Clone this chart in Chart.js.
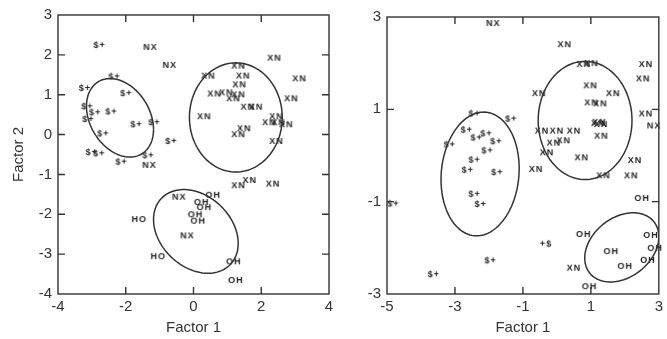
<!DOCTYPE html>
<html>
<head>
<meta charset="utf-8">
<script src="https://cdn.jsdelivr.net/npm/chart.js@4.4.0/dist/chart.umd.min.js"></script>
<style>
  html, body { margin: 0; padding: 0; background: #fff; }
  #left { position: absolute; left: 0; top: 0; width: 340px; height: 339px; }
  #right { position: absolute; left: 340px; top: 0; width: 327px; height: 339px; }
</style>
</head>
<body>
<div id="left"><canvas id="c1"></canvas></div>
<div id="right"><canvas id="c2"></canvas></div>
<script>
// ---- left panel data (Factor 1, Factor 2) ----
const leftS = [[-2.77, 2.25], [-2.33, 1.46], [-3.2, 1.17], [-1.98, 1.04], [-3.13, 0.71], [-2.9, 0.56],
  [-2.42, 0.58], [-3.1, 0.39], [-2.66, 0.03], [-1.68, 0.26], [-1.15, 0.31], [-0.65, -0.16],
  [-3.0, -0.44], [-2.78, -0.47], [-1.33, -0.52], [-2.12, -0.68]];
const leftNX = [[-1.27, 2.2], [-0.7, 1.75], [-1.3, -0.76], [-0.42, -1.56], [-0.18, -2.53]];
const leftXN = [[2.39, 1.93], [1.33, 1.73], [0.44, 1.48], [1.47, 1.48], [3.13, 1.41], [1.36, 1.26],
  [0.62, 1.03], [0.97, 1.06], [1.33, 1.01], [1.18, 0.91], [2.89, 0.91], [1.6, 0.7], [1.85, 0.7],
  [0.32, 0.46], [2.45, 0.46], [2.24, 0.31], [2.51, 0.31], [2.74, 0.26], [1.5, 0.16], [1.33, 0.01],
  [2.45, -0.16], [1.33, -1.27], [1.66, -1.14], [2.35, -1.23]];
const leftOH = [[0.58, -1.51], [0.24, -1.69], [0.32, -1.82], [0.06, -2.0], [0.14, -2.16],
  [1.19, -3.18], [1.25, -3.65]];
const leftHO = [[-1.6, -2.12], [-1.04, -3.05]];
// ellipses: centre x, centre y, right-extreme offset dx, dy, half height
const leftEllipses = [[-2.17, 0.42, 0.99, -0.29, 0.985], [1.25, 0.43, 1.37, 0, 1.37], [0.07, -2.43, 1.25, -0.3, 1.05]];

// ---- right panel data ----
const rightS = [[-2.42, 0.91], [-1.34, 0.8], [-2.65, 0.56], [-2.07, 0.48], [-2.36, 0.39], [-1.78, 0.31],
  [-3.15, 0.24], [-2.04, 0.11], [-2.42, -0.09], [-2.62, -0.31], [-1.75, -0.36], [-2.42, -0.83],
  [-2.24, -1.05], [-4.81, -1.04], [-1.95, -2.27], [-3.62, -2.57]];
const rightSrev = [[-0.32, -1.91]];
const rightNX = [[-1.87, 2.87], [2.86, 0.65]];
const rightXN = [[0.23, 2.41], [0.79, 1.98], [1.02, 2.0], [2.62, 1.98], [2.54, 1.67], [0.99, 1.52],
  [1.66, 1.35], [-0.52, 1.35], [1.02, 1.15], [1.28, 1.13], [2.62, 0.91], [1.22, 0.7], [1.3, 0.68],
  [1.25, 0.73], [1.31, 0.43], [-0.44, 0.54], [0.0, 0.54], [0.5, 0.54], [-0.09, 0.28], [0.2, 0.33],
  [-0.29, 0.07], [0.73, -0.04], [-0.61, -0.29], [2.3, -0.1], [1.37, -0.43], [2.19, -0.43], [0.5, -2.43]];
const rightOH = [[2.51, -0.92], [0.79, -1.7], [2.77, -1.72], [2.89, -2.0], [1.6, -2.07], [2.68, -2.26],
  [2.01, -2.39], [0.96, -2.83]];
const rightEllipses = [[-2.26, -0.4, 1.15, 0.12, 1.34], [0.83, 0.76, 1.38, 0, 1.28], [1.91, -1.99, 1.09, 0.23, 0.75]];

const FONT = "'Liberation Sans', Arial, sans-serif";
const INK = '#333';

// small text image used as point style
function labelImage(text) {
  const c = document.createElement('canvas');
  c.width = 22; c.height = 12;
  const g = c.getContext('2d');
  g.font = 'bold 9px ' + FONT;
  if ('letterSpacing' in g) g.letterSpacing = '1px';
  g.fillStyle = '#222';
  g.textAlign = 'center';
  g.textBaseline = 'middle';
  g.fillText(text, 11, 6.5);
  return c;
}

function pts(arr) {
  return arr.map(p => ({ x: p[0], y: p[1] }));
}

function ds(arr, text) {
  return { data: pts(arr), pointStyle: labelImage(text), pointRadius: 3, showLine: false, clip: false };
}

// frame with inward tick marks on all sides
const framePlugin = {
  id: 'frame',
  afterDraw(chart) {
    const { ctx, chartArea: a, scales } = chart;
    const len = 7;
    ctx.save();
    ctx.strokeStyle = INK;
    ctx.lineWidth = 1.4;
    ctx.strokeRect(a.left, a.top, a.right - a.left, a.bottom - a.top);
    ctx.beginPath();
    scales.x.ticks.forEach(t => {
      if (t.value <= scales.x.min || t.value >= scales.x.max) return;
      const px = scales.x.getPixelForValue(t.value);
      ctx.moveTo(px, a.bottom); ctx.lineTo(px, a.bottom - len);
      ctx.moveTo(px, a.top); ctx.lineTo(px, a.top + len);
    });
    scales.y.ticks.forEach(t => {
      if (t.value <= scales.y.min || t.value >= scales.y.max) return;
      const py = scales.y.getPixelForValue(t.value);
      ctx.moveTo(a.left, py); ctx.lineTo(a.left + len, py);
      ctx.moveTo(a.right, py); ctx.lineTo(a.right - len, py);
    });
    ctx.stroke();
    ctx.restore();
  }
};

// group ellipses drawn through the scales
const ellipsePlugin = {
  id: 'ellipses',
  afterDatasetsDraw(chart, args, opts) {
    const { ctx, chartArea: a, scales } = chart;
    ctx.save();
    ctx.beginPath();
    ctx.rect(a.left, a.top, a.right - a.left, a.bottom - a.top);
    ctx.clip();
    ctx.strokeStyle = INK;
    ctx.lineWidth = 1.5;
    (opts.list || []).forEach(e => {
      const [cx, cy, dx, dy, H] = e;
      const h = Math.sqrt(Math.max(H * H - dy * dy, 0));
      ctx.beginPath();
      for (let i = 0; i <= 120; i++) {
        const t = i / 120 * Math.PI * 2;
        const x = scales.x.getPixelForValue(cx + dx * Math.cos(t));
        const y = scales.y.getPixelForValue(cy + dy * Math.cos(t) + h * Math.sin(t));
        if (i === 0) ctx.moveTo(x, y); else ctx.lineTo(x, y);
      }
      ctx.stroke();
    });
    ctx.restore();
  }
};

function makeChart(id, datasets, cfg) {
  return new Chart(document.getElementById(id), {
    type: 'scatter',
    data: { datasets: datasets },
    options: {
      responsive: true,
      maintainAspectRatio: false,
      animation: false,
      events: [],
      layout: { padding: { left: 0, top: cfg.top, right: cfg.right, bottom: 0 } },
      plugins: {
        legend: { display: false },
        tooltip: { enabled: false },
        ellipses: { list: cfg.ellipses }
      },
      scales: {
        x: {
          type: 'linear', min: cfg.xMin, max: cfg.xMax,
          ticks: { stepSize: 2, color: INK, padding: 4, font: { family: FONT, size: 15 } },
          grid: { display: false, drawTicks: false },
          border: { display: false },
          title: { display: true, text: 'Factor 1', color: INK, padding: { top: 0, bottom: 2 }, font: { family: FONT, size: 15 } },
          afterFit(scale) { scale.height = 45; }
        },
        y: {
          type: 'linear', min: cfg.yMin, max: cfg.yMax,
          ticks: { stepSize: cfg.yStep, color: INK, padding: 6, font: { family: FONT, size: 15 } },
          grid: { display: false, drawTicks: false },
          border: { display: false },
          title: { display: cfg.yTitle, text: 'Factor 2', color: INK, padding: { top: 10, bottom: 0 }, font: { family: FONT, size: 15 } },
          afterFit(scale) { scale.width = cfg.yWidth; }
        }
      }
    },
    plugins: [ellipsePlugin, framePlugin]
  });
}

makeChart('c1', [
  ds(leftS, '$+'), ds(leftNX, 'NX'), ds(leftXN, 'XN'), ds(leftOH, 'OH'), ds(leftHO, 'HO')
], { xMin: -4, xMax: 4, yMin: -4, yMax: 3, yStep: 1, top: 13, right: 11, yWidth: 58, yTitle: true, ellipses: leftEllipses });

makeChart('c2', [
  ds(rightS, '$+'), ds(rightSrev, '+$'), ds(rightNX, 'NX'), ds(rightXN, 'XN'), ds(rightOH, 'OH')
], { xMin: -5, xMax: 3, yMin: -3, yMax: 3, yStep: 2, top: 17, right: 6, yWidth: 47, yTitle: false, ellipses: rightEllipses });
</script>
</body>
</html>
